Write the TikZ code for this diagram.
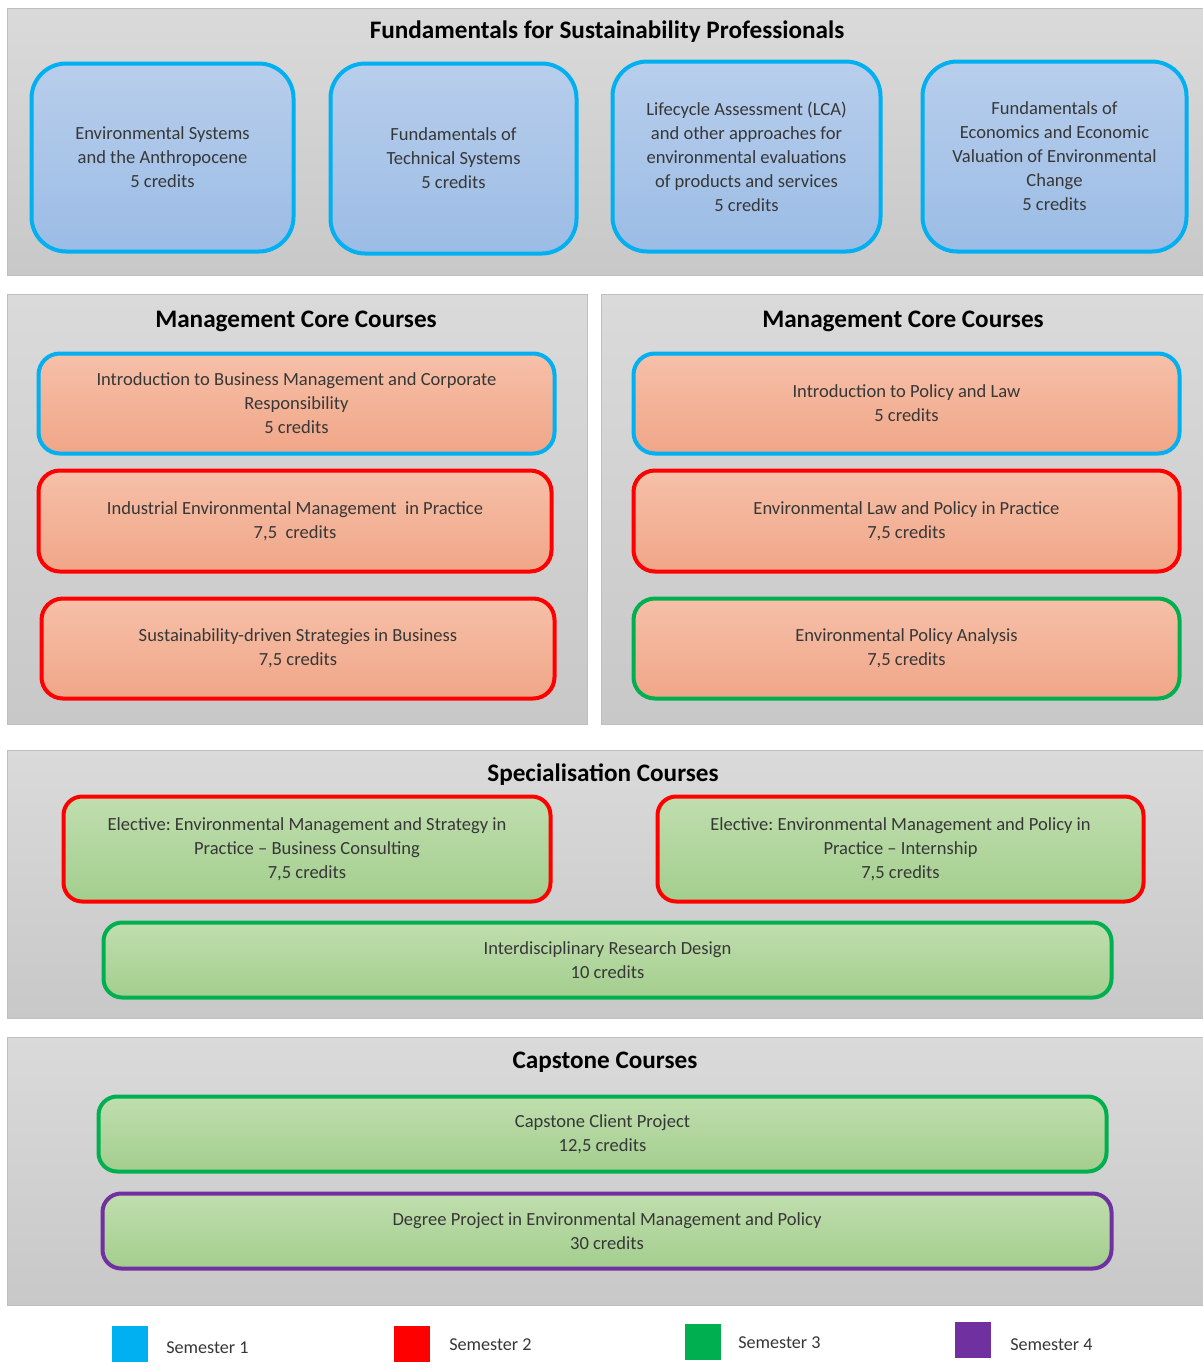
\documentclass[tikz,border=0pt]{standalone}
\usepackage{fontspec}
\setmainfont{Carlito}
\frenchspacing
\definecolor{semA}{RGB}{0,176,240}
\definecolor{semB}{RGB}{255,0,0}
\definecolor{semC}{RGB}{0,176,80}
\definecolor{semD}{RGB}{112,48,160}
\definecolor{bluetop}{RGB}{184,206,236}
\definecolor{bluebot}{RGB}{155,188,229}
\definecolor{salmtop}{RGB}{246,192,168}
\definecolor{salmbot}{RGB}{240,166,136}
\definecolor{greentop}{RGB}{192,222,174}
\definecolor{greenbot}{RGB}{163,206,142}
\definecolor{paneltop}{RGB}{218,218,218}
\definecolor{panelbot}{RGB}{200,200,200}
\definecolor{txtgray}{RGB}{55,55,55}
\newcommand\coursetext{\fontsize{13.9}{18}\selectfont}
\newcommand\titletext{\fontsize{18.9}{21}\selectfont\bfseries}
\newcommand\course[7]{\node[#5, minimum width={(#3-#1-3)*0.75pt}, minimum height={(#4-#2-3)*0.75pt}] (#6) at ({(#1+#3)/2},{(#2+#4)/2}) {#7};}
\begin{document}
\begin{tikzpicture}[x=0.75pt,y=-0.75pt,
  panel/.style={top color=paneltop, bottom color=panelbot, draw=black!25, line width=0.6pt},
  ptitle/.style={font=\titletext, text=black, inner sep=0pt, anchor=center},
  course/.style={line width=3pt, align=center, text=txtgray, font=\coursetext, inner sep=0pt},
  fund/.style={course, rounded corners=26pt, top color=bluetop, bottom color=bluebot},
  mgmt/.style={course, rounded corners=16pt, top color=salmtop, bottom color=salmbot},
  spec/.style={course, rounded corners=14pt, top color=greentop, bottom color=greenbot},
  sA/.style={draw=semA}, sB/.style={draw=semB}, sC/.style={draw=semC}, sD/.style={draw=semD},
  legsq/.style={minimum width=27pt, minimum height=27pt, inner sep=0pt},
  legtxt/.style={font=\fontsize{13.6}{16}\selectfont, text=txtgray, anchor=west, inner sep=0pt}
]
\useasboundingbox (0,0) rectangle (1203,1372);
\fill[white] (0,0) rectangle (1203,1372);

% Panels
\path[panel] (7,8) rectangle (1203,275);
\path[panel] (7,294) rectangle (587,724);
\path[panel] (601,294) rectangle (1203,724);
\path[panel] (7,750) rectangle (1203,1018);
\path[panel] (7,1037) rectangle (1203,1305);

% Titles
\node[ptitle] (t1) at (607,32) {Fundamentals for Sustainability Professionals};
\node[ptitle] (t2) at (296,321) {Management Core Courses};
\node[ptitle] (t3) at (903,321) {Management Core Courses};
\node[ptitle] (t4) at (603,775) {Specialisation Courses};
\node[ptitle] (t5) at (605,1062) {Capstone Courses};

% Fundamentals
\course{30}{62}{295}{253}{fund,sA}{f1}{Environmental Systems\\and the Anthropocene\\5 credits}
\course{329}{62}{578}{255}{fund,sA}{f2}{Fundamentals of\\Technical Systems\\5 credits}
\course{611}{60}{882}{253}{fund,sA}{f3}{Lifecycle Assessment (LCA)\\and other approaches for\\environmental evaluations\\of products and services\\5 credits}
\course{921}{60}{1188}{253}{fund,sA}{f4}{Fundamentals of\\Economics and Economic\\Valuation of Environmental\\Change\\5 credits}

% Management left
\course{37}{352}{556}{455}{mgmt,sA}{m1}{Introduction to Business Management and Corporate\\Responsibility\\5 credits}
\course{37}{469}{553}{573}{mgmt,sB}{m2}{Industrial Environmental Management\ \ in Practice\\7,5\ \ credits}
\course{40}{597}{556}{700}{mgmt,sB}{m3}{Sustainability-driven Strategies in Business\\7,5 credits}

% Management right
\course{632}{352}{1181}{455}{mgmt,sA}{p1}{Introduction to Policy and Law\\5 credits}
\course{632}{469}{1181}{573}{mgmt,sB}{p2}{Environmental Law and Policy in Practice\\7,5 credits}
\course{632}{597}{1181}{700}{mgmt,sC}{p3}{Environmental Policy Analysis\\7,5 credits}

% Specialisation
\course{62}{795}{552}{903}{spec,sB}{s1}{Elective: Environmental Management and Strategy in\\Practice -- Business Consulting\\7,5 credits}
\course{656}{795}{1145}{903}{spec,sB}{s2}{Elective: Environmental Management and Policy in\\Practice -- Internship\\7,5 credits}
\course{102}{921}{1113}{999}{spec,sC}{s3}{Interdisciplinary Research Design\\10 credits}

% Capstone
\course{97}{1095}{1108}{1173}{spec,sC}{c1}{Capstone Client Project\\12,5 credits}
\course{101}{1192}{1113}{1270}{spec,sD}{c2}{Degree Project in Environmental Management and Policy\\30 credits}

% Legend
\node[legsq, fill=semA] (l1) at (130,1344) {};
\node[legsq, fill=semB] (l2) at (412,1344) {};
\node[legsq, fill=semC] (l3) at (703,1342) {};
\node[legsq, fill=semD] (l4) at (973,1340) {};
\node[legtxt] (lt1) at (166,1348) {Semester 1};
\node[legtxt] (lt2) at (449,1345) {Semester 2};
\node[legtxt] (lt3) at (738,1343) {Semester 3};
\node[legtxt] (lt4) at (1010,1345) {Semester 4};
\end{tikzpicture}
\end{document}
